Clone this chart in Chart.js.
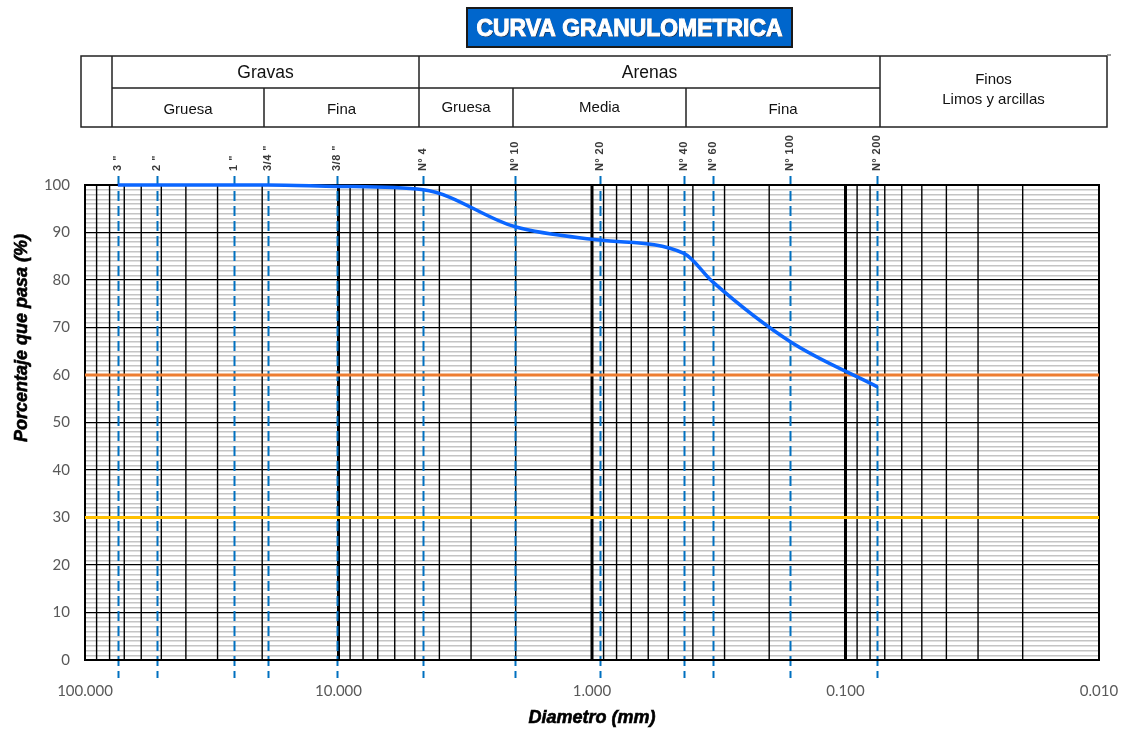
<!DOCTYPE html>
<html>
<head>
<meta charset="utf-8">
<script src="https://cdn.jsdelivr.net/npm/chart.js@4/dist/chart.umd.min.js"></script>
<style>
  html, body { margin: 0; padding: 0; background: #fff; }
  #wrap { width: 1123px; height: 729px; position: relative; }
</style>
</head>
<body>
<div id="wrap"><canvas id="curva"></canvas></div>
<script>
// datos
const sieveLabels = ['3 "', '2 "', '1 "', '3/4 "', '3/8 "', 'Nº 4', 'Nº 10', 'Nº 20', 'Nº 40', 'Nº 60', 'Nº 100', 'Nº 200'];
const sieveSizes = [74.2, 52.1, 25.9, 19.0, 10.1, 4.63, 2.01, 0.93, 0.434, 0.334, 0.165, 0.0748];
const passing = [100, 100, 100, 100, 99.7, 99.0, 91.2, 88.4, 85.6, 79.6, 67.0, 57.5];
const xTickValues = [0.01, 0.02, 0.03, 0.04, 0.05, 0.06, 0.07, 0.08, 0.09,
                     0.1, 0.2, 0.3, 0.4, 0.5, 0.6, 0.7, 0.8, 0.9,
                     1, 2, 3, 4, 5, 6, 7, 8, 9,
                     10, 20, 30, 40, 50, 60, 70, 80, 90, 100];
const xDecades = [100, 10, 1, 0.1, 0.01];
const refLines = [60, 30];
const refColors = ['#ED7D31', '#FFC000'];

// cabecera (Gravas / Arenas / Finos)
const headerGroups = ['Gravas', 'Arenas'];
const headerSub = ['Gruesa', 'Fina', 'Gruesa', 'Media', 'Fina'];

const LAYOUT = {
    plotLeft: 85, plotRight: 1099, plotTop: 185, plotBottom: 660,
    tblLeft: 81, tblRight: 1107, tblTop: 56, tblMid: 88, tblBottom: 127,
    groupX: [112, 419, 880],
    subX: [112, 264, 419, 513, 686, 880],
    yTitleY: 338
};

const isDecade = v => xDecades.some(d => Math.abs(d - v) < 1e-9);

const decorPlugin = {
    id: 'decor',
    beforeDraw(chart) {
        const c = chart.ctx;
        c.save();
        c.fillStyle = '#fff';
        c.fillRect(0, 0, chart.width, chart.height);
        c.restore();
    },
    beforeDatasetsDraw(chart) {
        const c = chart.ctx;
        const xs = chart.scales.x;
        const area = chart.chartArea;
        c.save();
        // rejilla vertical encima de la horizontal gris
        c.strokeStyle = '#000';
        xTickValues.forEach(v => {
            if (v === 100 || v === 0.01) return;
            const px = xs.getPixelForValue(v);
            c.lineWidth = isDecade(v) ? 3 : 1.4;
            c.beginPath();
            c.moveTo(px, area.top);
            c.lineTo(px, area.bottom);
            c.stroke();
        });
        // lineas de tamices
        c.strokeStyle = '#0070C0';
        c.lineWidth = 2;
        c.setLineDash([10, 5]);
        sieveSizes.forEach(d => {
            const px = Math.round(xs.getPixelForValue(d)) + 0.5;
            c.beginPath();
            c.moveTo(px, area.top - 9);
            c.lineTo(px, area.bottom + 18);
            c.stroke();
        });
        c.setLineDash([]);
        // marco del grafico
        c.strokeStyle = '#000';
        c.lineWidth = 2;
        c.strokeRect(area.left, area.top, area.right - area.left, area.bottom - area.top);
        c.restore();
    },
    afterDraw(chart) {
        const c = chart.ctx;
        const xs = chart.scales.x;
        const area = chart.chartArea;
        c.save();

        // etiquetas de tamices
        c.fillStyle = '#3a3a3a';
        c.font = 'bold 11px "Liberation Sans", Arial, sans-serif';
        c.letterSpacing = '0.5px';
        c.textAlign = 'left';
        c.textBaseline = 'middle';
        sieveSizes.forEach((d, i) => {
            const px = xs.getPixelForValue(d);
            c.save();
            c.translate(px, area.top - 14);
            c.rotate(-Math.PI / 2);
            c.fillText(sieveLabels[i], 0, 0);
            c.restore();
        });
        c.letterSpacing = '0px';

        // titulo
        c.fillStyle = '#0066CC';
        c.fillRect(467, 8, 325, 39);
        c.strokeStyle = '#1a1a1a';
        c.lineWidth = 2;
        c.strokeRect(467, 8, 325, 39);
        c.font = 'bold 23px "Liberation Sans", Arial, sans-serif';
        c.textAlign = 'center';
        c.textBaseline = 'middle';
        c.fillStyle = '#1b2a44';
        c.fillText('CURVA GRANULOMETRICA', 630.5, 30.5, 306);
        c.fillStyle = '#fff';
        c.strokeStyle = '#fff';
        c.lineWidth = 1;
        c.fillText('CURVA GRANULOMETRICA', 629.5, 29.5, 306);
        c.strokeText('CURVA GRANULOMETRICA', 629.5, 29.5, 306);

        // tabla de cabecera
        const L = LAYOUT;
        c.strokeStyle = '#222';
        c.lineWidth = 1.5;
        c.strokeRect(L.tblLeft, L.tblTop, L.tblRight - L.tblLeft, L.tblBottom - L.tblTop);
        c.strokeStyle = '#777';
        c.beginPath();
        c.moveTo(L.tblRight, L.tblTop - 1);
        c.lineTo(L.tblRight + 4, L.tblTop - 1);
        c.stroke();
        c.strokeStyle = '#222';
        c.beginPath();
        L.groupX.forEach(x => { c.moveTo(x, L.tblTop); c.lineTo(x, L.tblBottom); });
        L.subX.forEach(x => { c.moveTo(x, L.tblMid); c.lineTo(x, L.tblBottom); });
        c.moveTo(L.groupX[0], L.tblMid);
        c.lineTo(L.groupX[2], L.tblMid);
        c.stroke();

        c.fillStyle = '#111';
        c.font = '17.5px "Liberation Sans", Arial, sans-serif';
        headerGroups.forEach((t, i) => {
            c.fillText(t, (L.groupX[i] + L.groupX[i + 1]) / 2, 73);
        });
        c.font = '15px "Liberation Sans", Arial, sans-serif';
        headerSub.forEach((t, i) => {
            c.fillText(t, (L.subX[i] + L.subX[i + 1]) / 2, i === 2 || i === 3 ? 108 : 110);
        });
        const fx = (L.groupX[2] + L.tblRight) / 2;
        c.fillText('Finos', fx, 80);
        c.fillText('Limos y arcillas', fx, 100);

        // titulos de ejes
        c.font = 'italic bold 18px "Liberation Sans", Arial, sans-serif';
        c.fillStyle = '#000';
        c.strokeStyle = '#000';
        c.lineWidth = 0.6;
        c.fillText('Diametro (mm)', (area.left + area.right) / 2, 718);
        c.strokeText('Diametro (mm)', (area.left + area.right) / 2, 718);
        c.save();
        c.translate(22, L.yTitleY);
        c.rotate(-Math.PI / 2);
        c.fillText('Porcentaje que pasa (%)', 0, 0);
        c.strokeText('Porcentaje que pasa (%)', 0, 0);
        c.restore();

        c.restore();
    }
};

const datasets = [];
refLines.forEach((v, i) => {
    datasets.push({
        data: [{ x: 100, y: v }, { x: 0.01, y: v }],
        borderColor: refColors[i],
        borderWidth: 3,
        pointRadius: 0,
        tension: 0,
        clip: false,
        order: 2
    });
});
datasets.push({
    data: sieveSizes.map((d, i) => ({ x: d, y: passing[i] })),
    borderColor: '#0A66FF',
    borderWidth: 3.5,
    pointRadius: 0,
    cubicInterpolationMode: 'monotone',
    clip: false,
    order: 1
});

new Chart(document.getElementById('curva'), {
    type: 'line',
    data: { datasets },
    plugins: [decorPlugin],
    options: {
        responsive: true,
        maintainAspectRatio: false,
        animation: false,
        layout: { padding: { top: LAYOUT.plotTop, right: 1123 - LAYOUT.plotRight, left: 0, bottom: 0 } },
        plugins: { legend: { display: false }, tooltip: { enabled: false } },
        scales: {
            x: {
                type: 'logarithmic',
                reverse: true,
                min: 0.01,
                max: 100,
                afterFit: s => { s.height = 729 - LAYOUT.plotBottom; },
                afterBuildTicks: s => { s.ticks = xTickValues.map(v => ({ value: v })); },
                border: { display: false },
                grid: { display: false },
                ticks: {
                    autoSkip: false,
                    maxRotation: 0,
                    padding: 14,
                    color: '#595959',
                    font: { family: 'Lato, "Open Sans", sans-serif', size: 15 },
                    callback: v => (isDecade(v) ? v.toFixed(3) : '')
                }
            },
            y: {
                min: 0,
                max: 100,
                afterFit: s => { s.width = LAYOUT.plotLeft; },
                border: { display: false },
                grid: {
                    drawTicks: false,
                    color: ctx => (ctx.tick && ctx.tick.value % 10 === 0 ? '#000' : '#c4c4c4'),
                    lineWidth: ctx => (ctx.tick && ctx.tick.value % 10 === 0 ? 1.3 : 1.4)
                },
                ticks: {
                    stepSize: 1,
                    autoSkip: false,
                    padding: 15,
                    color: '#595959',
                    font: { family: 'Lato, "Open Sans", sans-serif', size: 15 },
                    callback: v => (v % 10 === 0 ? v : '')
                }
            }
        }
    }
});
</script>
</body>
</html>
